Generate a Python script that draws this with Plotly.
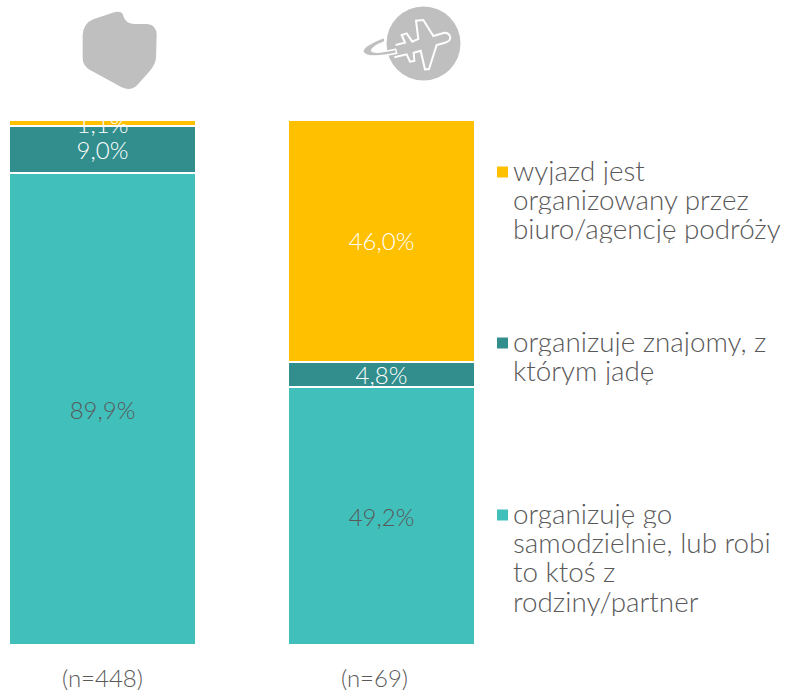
import plotly.graph_objects as go

W, H = 786, 692
FONT = "Lato"
GRAY = "#595959"

samples = ["(n=448)", "(n=69)"]
self_org = [89.9, 49.2]
friend_org = [9.0, 4.8]
agency_org = [1.1, 46.0]

self_lines = ["organizuję go", "samodzielnie, lub robi", "to ktoś z", "rodziny/partner"]
friend_lines = ["organizuje znajomy, z", "którym jadę"]
agency_lines = ["wyjazd jest", "organizowany przez", "biuro/agencję podróży"]

CYAN, TEAL, ORANGE = "#41BFBB", "#318E8C", "#FFC000"
ICON = "#BFBFBF"
LABEL_NUDGE = -0.7  # optical centring of the value labels, in axis units
SAMPLE_SHIFT = [0, -7]  # the sample-size captions sit slightly off the bar centres


def label(v):
    return f"{v:.1f}%".replace(".", ",")


def px(x, y):
    return x / W, 1 - y / H


def path(cmds, close=True):
    out = []
    for c in cmds:
        out.append(c[0])
        pts = c[1:]
        out.append(" ".join("%.5f,%.5f" % px(pts[i], pts[i + 1]) for i in range(0, len(pts), 2)))
    return " ".join(out) + (" Z" if close else "")


def z(x, y):
    return 60 + x / 3, y / 3


def q(x, y):
    return 355 + x / 3, y / 3


fig = go.Figure()
series = [
    ("organizuję go samodzielnie, lub robi to ktoś z rodziny/partner", self_org, CYAN),
    ("organizuje znajomy, z którym jadę", friend_org, TEAL),
    ("wyjazd jest organizowany przez biuro/agencję podróży", agency_org, ORANGE),
]
for name, vals, col in series:
    fig.add_trace(go.Bar(x=samples, y=vals, name=name, marker=dict(color=col, line=dict(color="white", width=2)),
                         showlegend=False, hoverinfo="y"))

base = [0, 0]
colors = [[GRAY, GRAY], ["white", "white"], ["white", "white"]]
for (name, vals, col), tc in zip(series, colors):
    mids = [b + v / 2 + LABEL_NUDGE for b, v in zip(base, vals)]
    base = [b + v for b, v in zip(base, vals)]
    fig.add_trace(go.Scatter(x=samples, y=mids, mode="text", text=[label(v) for v in vals],
                             textposition="middle center", textfont=dict(family=FONT, size=24, color=tc, weight=300),
                             showlegend=False, hoverinfo="skip", cliponaxis=False))

shapes = []
# Poland silhouette
p = [("M",) + z(68, 105), ("Q",) + z(70, 70) + z(100, 58), ("L",) + z(165, 36), ("Q",) + z(188, 32) + z(190, 48),
     ("Q",) + z(196, 70) + z(222, 72), ("L",) + z(262, 72), ("Q",) + z(290, 75) + z(290, 105), ("L",) + z(288, 175),
     ("Q",) + z(285, 195) + z(270, 212), ("L",) + z(232, 255), ("Q",) + z(212, 275) + z(185, 262), ("L",) + z(90, 210),
     ("Q",) + z(68, 197) + z(68, 175)]
shapes.append(dict(type="path", xref="paper", yref="paper", path=path(p), fillcolor=ICON, line=dict(width=0)))
# Plane badge
cx, cy, r = 423.5, 43.5, 37
x0, y1 = px(cx - r, cy - r)
x1, y0 = px(cx + r, cy + r)
shapes.append(dict(type="circle", xref="paper", yref="paper", x0=x0, x1=x1, y0=y0, y1=y1, fillcolor=ICON, line=dict(width=0)))
swoosh = [("M",) + q(88, 112), ("Q",) + q(20, 138) + q(24, 156), ("Q",) + q(35, 178) + q(125, 160),
          ("L",) + q(122, 148), ("Q",) + q(60, 162) + q(50, 153), ("Q",) + q(50, 140) + q(90, 125)]
shapes.append(dict(type="path", xref="paper", yref="paper", path=path(swoosh), fillcolor=ICON, line=dict(color="white", width=1.5)))
plane = [("M",) + q(285, 108), ("Q",) + q(290, 122) + q(270, 128), ("L",) + q(245, 135), ("L",) + q(222, 207),
         ("L",) + q(210, 208), ("L",) + q(197, 152), ("L",) + q(176, 158), ("L",) + q(178, 183), ("L",) + q(165, 185),
         ("L",) + q(155, 163), ("L",) + q(118, 172)]
plane2 = [("M",) + q(122, 135), ("L",) + q(150, 128), ("L",) + q(140, 105), ("L",) + q(155, 100), ("L",) + q(172, 125),
          ("L",) + q(190, 117), ("L",) + q(183, 62), ("L",) + q(205, 60), ("L",) + q(235, 108), ("L",) + q(268, 98),
          ("Q",) + q(280, 97) + q(285, 108)]
shapes.append(dict(type="path", xref="paper", yref="paper", path=path(plane, close=False), line=dict(color="white", width=2)))
shapes.append(dict(type="path", xref="paper", yref="paper", path=path(plane2, close=False), line=dict(color="white", width=2)))

annotations = []
LH = 29.4
for lines, top, col in [(agency_lines, 172, ORANGE), (friend_lines, 343, TEAL), (self_lines, 515, CYAN)]:
    xa, ya = px(497, top - 5.5)
    xb, yb = px(508, top + 5.5)
    shapes.append(dict(type="rect", xref="paper", yref="paper", x0=xa, x1=xb, y0=yb, y1=ya, fillcolor=col, line=dict(width=0)))
    for i, t in enumerate(lines):
        ax, ay = px(511, top - 2 + i * LH)
        annotations.append(dict(text=t, x=ax, y=ay, xref="paper", yref="paper", xanchor="left", yanchor="middle",
                                showarrow=False, align="left", height=29,
                                font=dict(family=FONT, size=27.8, color=GRAY, weight=300)))

for s, shift in zip(samples, SAMPLE_SHIFT):
    annotations.append(dict(text=s, x=s, xref="x", y=px(0, 677.5)[1], yref="paper", xanchor="center", yanchor="middle",
                            xshift=shift, showarrow=False, font=dict(family=FONT, size=24, color=GRAY, weight=300)))

fig.update_layout(
    width=W, height=H, autosize=False, margin=dict(l=0, r=0, t=0, b=0), barmode="stack", bargap=0.33,
    paper_bgcolor="white", plot_bgcolor="white", shapes=shapes, annotations=annotations,
    font=dict(family=FONT, color=GRAY, size=24),
    xaxis=dict(type="category", range=[-102.5 / 279, (W - 102.5) / 279], showgrid=False, zeroline=False, showline=False,
               ticks="", showticklabels=False, automargin=False),
    yaxis=dict(range=[0, 100], domain=[1 - 645 / H, 1 - 120 / H], visible=False, automargin=False),
)
fig.write_html("out.html", config={"displayModeBar": False},
               post_script="document.body.style.margin='0';document.documentElement.style.overflow='hidden';")
